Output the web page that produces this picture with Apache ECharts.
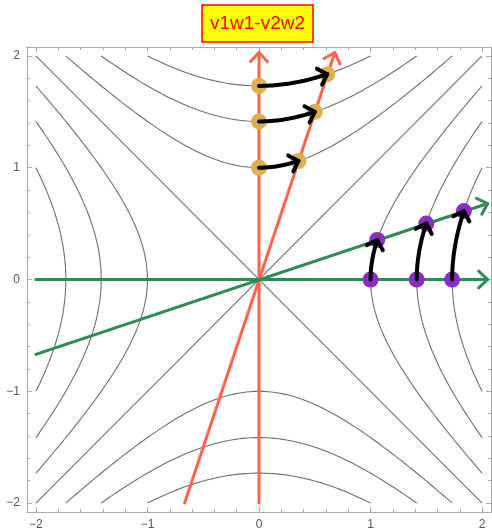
<!DOCTYPE html>
<html>
<head>
<meta charset="utf-8">
<script src="https://cdn.jsdelivr.net/npm/echarts@6/dist/echarts.min.js"></script>
<style>html,body{margin:0;padding:0;background:#fff;}#c{width:492px;height:531px;}</style>
</head>
<body>
<div id="c"></div>
<script>
// ---- data ----
const titleText = 'v1w1-v2w2';
const axisRange = [-2.08, 2.08];
const majorTicks = [-2, -1, 0, 1, 2];
const minorTicks = [-1.8,-1.6,-1.4,-1.2,-0.8,-0.6,-0.4,-0.2,0.2,0.4,0.6,0.8,1.2,1.4,1.6,1.8];
const contourLevels = [-3, -2, -1, 0, 1, 2, 3];          // x^2 - y^2 = c
const redAxes = [ [[0, -2], [0, 2.03]], [[-0.667, -2], [0.68, 2.03]] ];
const greenAxes = [ [[-2, 0], [2.05, 0]], [[-2, -0.67], [2.05, 0.68]] ];
const orangeStart = [[0, 1], [0, 1.414], [0, 1.732]];
const orangeEnd = [[0.354, 1.06], [0.5, 1.5], [0.612, 1.837]];
const purpleStart = [[1, 0], [1.414, 0], [1.732, 0]];
const purpleEnd = [[1.06, 0.354], [1.5, 0.5], [1.837, 0.612]];

// ---- helpers ----
function contourBranches(c) {
  const out = [], N = 80;
  if (c > 0) {
    const ym = Math.sqrt(4 - c);
    [1, -1].forEach(s => {
      const p = [];
      for (let i = 0; i <= N; i++) { const y = -ym + 2 * ym * i / N; p.push([s * Math.sqrt(c + y * y), y]); }
      out.push(p);
    });
  } else if (c < 0) {
    const xm = Math.sqrt(4 + c);
    [1, -1].forEach(s => {
      const p = [];
      for (let i = 0; i <= N; i++) { const x = -xm + 2 * xm * i / N; p.push([x, s * Math.sqrt(x * x - c)]); }
      out.push(p);
    });
  } else {
    out.push([[-2, -2], [2, 2]]); out.push([[-2, 2], [2, -2]]);
  }
  return out;
}
function chevron(tip, dir, len, ang) {
  const n = Math.hypot(dir[0], dir[1]); const bx = -dir[0] / n, by = -dir[1] / n;
  const r = a => [tip[0] + len * (bx * Math.cos(a) - by * Math.sin(a)), tip[1] + len * (bx * Math.sin(a) + by * Math.cos(a))];
  return [r(ang), tip, r(-ang)];
}
// hyperbolic path from start to end following x^2-y^2 = const
function hyperPath(s, e, vertical) {
  const p = [], N = 30;
  if (vertical) {
    const r = s[1], T = Math.asinh(e[0] / r);
    for (let i = 0; i <= N; i++) { const t = T * i / N; p.push([r * Math.sinh(t), r * Math.cosh(t)]); }
  } else {
    const r = s[0], T = Math.asinh(e[1] / r);
    for (let i = 0; i <= N; i++) { const t = T * i / N; p.push([r * Math.cosh(t), r * Math.sinh(t)]); }
  }
  return p;
}

const contourData = [];
contourLevels.forEach(c => contourBranches(c).forEach(b => contourData.push({ coords: b })));

function axisLinesData(list) {
  const d = [];
  list.forEach(seg => {
    d.push({ coords: seg });
    const dir = [seg[1][0] - seg[0][0], seg[1][1] - seg[0][1]];
    d.push({ coords: chevron(seg[1], dir, 0.11, 0.75) });
  });
  return d;
}
const blackData = [];
function addArrows(starts, ends, vertical) {
  starts.forEach((s, i) => {
    const p = hyperPath(s, ends[i], vertical);
    blackData.push({ coords: p });
    const a = p[p.length - 1], b = p[p.length - 3];
    blackData.push({ coords: chevron(a, [a[0] - b[0], a[1] - b[1]], 0.105, 0.8) });
  });
}
addArrows(orangeStart, orangeEnd, true);
addArrows(purpleStart, purpleEnd, false);

const frameColor = '#aaaaaa';
const fmt = v => (v < 0 ? '\u2212' + Math.abs(v) : String(v));
function mkAxis(position, ticks, len, labels) {
  return {
    type: 'value', min: axisRange[0], max: axisRange[1], position: position,
    axisLine: { show: true, onZero: false, lineStyle: { color: frameColor, width: 1 } },
    splitLine: { show: false },
    axisTick: { show: true, inside: true, length: len, customValues: ticks, lineStyle: { color: frameColor } },
    axisLabel: labels ? { show: true, customValues: majorTicks, formatter: fmt, color: '#555', fontSize: 12, fontFamily: 'Liberation Sans', margin: 7 } : { show: false }
  };
}

const chart = echarts.init(document.getElementById('c'), null, { renderer: 'canvas' });
chart.setOption({
  animation: false,
  backgroundColor: '#fff',
  title: {
    text: titleText, left: 202, top: 5,
    padding: [9, 8, 9, 8],
    backgroundColor: '#ffff00', borderColor: '#ff0000', borderWidth: 1.5,
    textStyle: { color: '#ff0000', fontSize: 19, fontWeight: 'normal', fontFamily: 'Liberation Sans' }
  },
  grid: { left: 27, top: 47, width: 464, height: 465, containLabel: false },
  xAxis: [mkAxis('bottom', majorTicks, 5, true), mkAxis('bottom', minorTicks, 3, false), mkAxis('top', majorTicks, 5, false), mkAxis('top', minorTicks, 3, false)],
  yAxis: [mkAxis('left', majorTicks, 5, true), mkAxis('left', minorTicks, 3, false), mkAxis('right', majorTicks, 5, false), mkAxis('right', minorTicks, 3, false)],
  series: [
    { type: 'lines', coordinateSystem: 'cartesian2d', polyline: true, z: 1, silent: true,
      lineStyle: { color: '#707070', width: 1.1, opacity: 1 }, data: contourData },
    { type: 'lines', coordinateSystem: 'cartesian2d', polyline: true, z: 2, silent: true,
      lineStyle: { color: '#ff6347', width: 3, opacity: 1, cap: 'round', join: 'round' }, data: axisLinesData(redAxes) },
    { type: 'lines', coordinateSystem: 'cartesian2d', polyline: true, z: 2, silent: true,
      lineStyle: { color: '#2e8b57', width: 3, opacity: 1, cap: 'round', join: 'round' }, data: axisLinesData(greenAxes) },
    { type: 'scatter', z: 3, symbolSize: 16, itemStyle: { color: '#deb04c', opacity: 1 }, data: orangeStart.concat(orangeEnd) },
    { type: 'scatter', z: 3, symbolSize: 16, itemStyle: { color: '#8b2cc9', opacity: 1 }, data: purpleStart.concat(purpleEnd) },
    { type: 'lines', coordinateSystem: 'cartesian2d', polyline: true, z: 4, silent: true,
      lineStyle: { color: '#000', width: 4, opacity: 1, cap: 'round', join: 'round' }, data: blackData }
  ]
});
</script>
</body>
</html>
